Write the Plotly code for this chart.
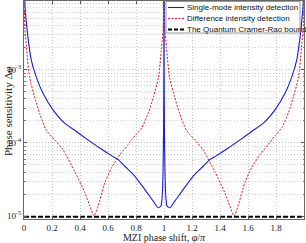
import plotly.graph_objects as go

# ---- data ----
phase_red = [0.001, 0.003, 0.006, 0.018, 0.039, 0.075, 0.111, 0.159, 0.219, 0.278, 0.362, 0.434, 0.470, 0.500,
             0.529, 0.577, 0.625, 0.685, 0.740, 0.792, 0.841, 0.889, 0.925, 0.961, 0.982, 0.994, 0.997, 0.999,
             1.001, 1.003, 1.006, 1.018, 1.039, 1.075, 1.111, 1.159, 1.219, 1.278, 1.362, 1.434, 1.470, 1.500,
             1.529, 1.577, 1.625, 1.685, 1.740, 1.792, 1.841, 1.889, 1.925, 1.961, 1.982, 1.994, 1.997, 1.999]
sens_red = [2.0e-2, 6.0e-3, 3.6e-3, 2.0e-3, 8.0e-4, 4.3e-4, 2.55e-4, 1.5e-4, 1.1e-4, 8.1e-5, 4.1e-5, 2.1e-5, 1.38e-5, 1.0e-5,
            1.37e-5, 2.85e-5, 4.56e-5, 6.9e-5, 9.3e-5, 1.25e-4, 1.6e-4, 2.6e-4, 4.3e-4, 8.0e-4, 2.0e-3, 3.6e-3, 6.0e-3, 2.0e-2,
            2.0e-2, 6.0e-3, 3.6e-3, 2.0e-3, 8.0e-4, 4.3e-4, 2.55e-4, 1.5e-4, 1.1e-4, 8.1e-5, 4.1e-5, 2.1e-5, 1.38e-5, 1.0e-5,
            1.37e-5, 2.85e-5, 4.56e-5, 6.9e-5, 9.3e-5, 1.25e-4, 1.6e-4, 2.6e-4, 4.3e-4, 8.0e-4, 2.0e-3, 3.6e-3, 6.0e-3, 2.0e-2]

phase_blue = [0.001, 0.006, 0.018, 0.030, 0.052, 0.087, 0.135, 0.207, 0.278, 0.374, 0.457, 0.541, 0.630, 0.673, 0.720,
              0.792, 0.864, 0.923, 0.959, 0.978, 0.985, 0.990, 0.994, 0.997, 0.999, 1.000,
              1.001, 1.003, 1.006, 1.010, 1.015, 1.022, 1.041, 1.077, 1.136, 1.208, 1.280, 1.327, 1.370, 1.459,
              1.543, 1.626, 1.722, 1.793, 1.865, 1.913, 1.948, 1.970, 1.982, 1.994, 1.999]
sens_blue = [2.5e-2, 8.0e-3, 4.2e-3, 2.6e-3, 1.35e-3, 8.0e-4, 4.8e-4, 2.83e-4, 1.96e-4, 1.43e-4, 1.1e-4, 8.5e-5, 6.6e-5, 5.9e-5, 4.8e-5,
             3.5e-5, 2.3e-5, 1.6e-5, 1.3e-5, 1.37e-5, 1.66e-5, 2.4e-5, 5.0e-5, 1.6e-4, 1.0e-3, 3.0e-2,
             1.0e-3, 1.6e-4, 5.0e-5, 2.4e-5, 1.66e-5, 1.37e-5, 1.3e-5, 1.6e-5, 2.3e-5, 3.5e-5, 4.8e-5, 5.9e-5, 6.6e-5, 8.5e-5,
             1.1e-4, 1.43e-4, 1.96e-4, 2.83e-4, 4.8e-4, 8.0e-4, 1.35e-3, 2.6e-3, 4.2e-3, 8.0e-3, 2.5e-2]

qcrb_phase = [0, 2]
qcrb_value = [0.98e-5, 0.98e-5]

x_ticks = [0, 0.2, 0.4, 0.6, 0.8, 1, 1.2, 1.4, 1.6, 1.8, 2]
y_ticks = [1e-5, 1e-4, 1e-3]
y_tick_text = ["10<sup>-5</sup>", "10<sup>-4</sup>", "10<sup>-3</sup>"]
y_minor = [m * 10.0 ** e for e in (-6, -5, -4, -3) for m in range(2, 10)]

legend_names = ["Single-mode intensity detection", "Difference intensity detection", "The Quantum Cramer-Rao bound"]

# ---- figure ----
W, H = 306, 243
ML, MR, MT, MB = 24, 2, 1, 24
PW, PH = W - ML - MR, H - MT - MB

def px_x(p):
    return (p - ML) / PW

def px_y(p):
    return 1 - (p - MT) / PH

serif = "Liberation Serif"
sans = "Liberation Sans"
grid_dash = "1px,2px"

fig = go.Figure()
fig.add_trace(go.Scatter(x=phase_red, y=sens_red, mode="lines", name=legend_names[1],
                         line=dict(color="#e8141c", width=1, dash="2px,1.5px", shape="spline", smoothing=0.6)))
fig.add_trace(go.Scatter(x=phase_blue, y=sens_blue, mode="lines", name=legend_names[0],
                         line=dict(color="#1a1adc", width=1.1, shape="spline", smoothing=0.6)))
fig.add_trace(go.Scatter(x=qcrb_phase, y=qcrb_value, mode="lines", name=legend_names[2],
                         line=dict(color="black", width=2, dash="5px,2px")))

fig.update_layout(
    width=W, height=H, margin=dict(l=ML, r=MR, t=MT, b=MB),
    paper_bgcolor="white", plot_bgcolor="white", showlegend=False,
    font=dict(family=serif, size=9, color="#222"),
)
fig.update_xaxes(range=[0, 2], tickvals=x_ticks, ticks="inside", ticklen=3, tickcolor="#555",
                 showline=True, linecolor="#666", linewidth=1, mirror="ticks",
                 showgrid=True, gridcolor="#c4c4c4", griddash=grid_dash, gridwidth=1, zeroline=False,
                 tickfont=dict(family=serif, size=9, color="#222"),
                 title=dict(text="MZI phase shift, <i>φ</i>/<i>π</i>", font=dict(family=serif, size=10, color="#222"), standoff=0))
fig.update_yaxes(type="log", range=[-5.04, -2.06], tickvals=y_ticks, ticktext=y_tick_text,
                 ticks="inside", ticklen=3, tickcolor="#555",
                 showline=True, linecolor="#666", linewidth=1, mirror="ticks",
                 showgrid=True, gridcolor="#c4c4c4", griddash=grid_dash, gridwidth=1, zeroline=False,
                 tickfont=dict(family=serif, size=9, color="#222"),
                 minor=dict(tickvals=y_minor, ticks="inside", ticklen=1.5, tickcolor="#777",
                            showgrid=True, gridcolor="#d0d0d0", griddash=grid_dash, gridwidth=1))

# y-axis title
fig.add_annotation(text="Phase sensitivity Δ<i>φ</i>", xref="paper", yref="paper",
                   x=px_x(8), y=px_y(111), textangle=-90, showarrow=False,
                   font=dict(family=serif, size=11, color="#222"), xanchor="center", yanchor="middle")

# legend box (drawn as in the reference)
lx0, lx1, ly0, ly1 = px_x(166), px_x(300), px_y(1.5), px_y(33)
fig.add_shape(type="rect", xref="paper", yref="paper", x0=lx0, x1=lx1, y0=ly1, y1=ly0,
              line=dict(color="#9a9a9a", width=1), fillcolor="white", layer="above")
leg_styles = [dict(color="#1a1adc", width=1.1),
              dict(color="#e8141c", width=1, dash="2px,1.5px"),
              dict(color="black", width=2, dash="4px,2px")]
for i, (name, st) in enumerate(zip(legend_names, leg_styles)):
    yy = px_y(7.5 + 11 * i)
    fig.add_shape(type="line", xref="paper", yref="paper", x0=px_x(168), x1=px_x(184), y0=yy, y1=yy,
                  line=st, layer="above")
    fig.add_annotation(text=name, xref="paper", yref="paper", x=px_x(185), y=yy, showarrow=False,
                       xanchor="left", yanchor="middle", font=dict(family=sans, size=8, color="#111"))

fig.write_html("out.html", config={"displayModeBar": False},
               post_script="document.body.style.margin='0';document.body.style.overflow='hidden';")
